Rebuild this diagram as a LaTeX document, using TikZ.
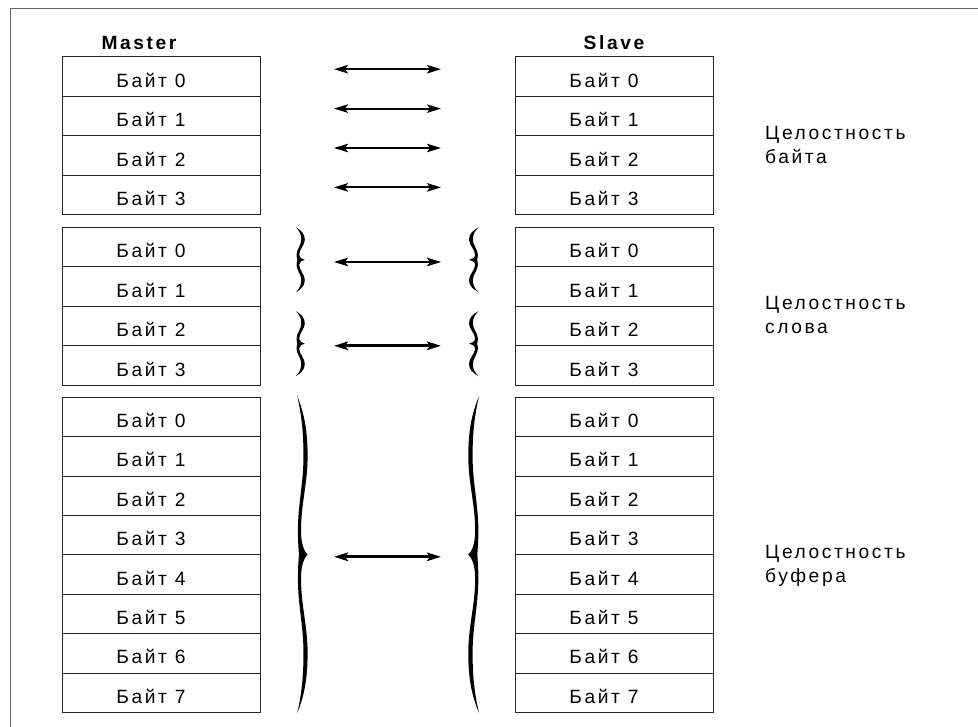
\documentclass[tikz,border=0pt]{standalone}
\usepackage{fontspec}
\setmainfont{Liberation Sans}[LetterSpace=13.5]
\usetikzlibrary{positioning,arrows.meta}

\newcommand{\bytecell}[1]{\hspace*{-20pt}Байт #1}
% filled curly brace, ends at x=0, tip at x=10, y from -1 (top) to 1 (bottom)
\newcommand{\bracefill}{(0,-1) .. controls (6,-0.9) and (10,-0.8) .. (10,-0.62)
    .. controls (10,-0.45) and (3.6,-0.32) .. (3.6,-0.15)
    .. controls (3.6,-0.06) and (7,-0.02) .. (10,0)
    .. controls (7,0.02) and (3.6,0.06) .. (3.6,0.15)
    .. controls (3.6,0.32) and (10,0.45) .. (10,0.62)
    .. controls (10,0.8) and (6,0.9) .. (0,1)
    .. controls (4,0.88) and (6,0.78) .. (6,0.62)
    .. controls (6,0.45) and (0.6,0.32) .. (0.6,0.15)
    .. controls (0.6,0.06) and (1.5,0.03) .. (1.5,0)
    .. controls (1.5,-0.03) and (0.6,-0.06) .. (0.6,-0.15)
    .. controls (0.6,-0.32) and (6,-0.45) .. (6,-0.62)
    .. controls (6,-0.78) and (4,-0.88) .. (0,-1) -- cycle}

\begin{document}
\begin{tikzpicture}[x=1pt, y=-1pt, node distance=0pt,
    font=\fontsize{19.2}{24.4}\selectfont,
    >={Stealth[length=14pt,width=8.5pt,inset=3pt]},
    cell/.style={draw=black!85, line width=1pt, minimum width=198pt, minimum height=39.4pt,
                 inner sep=0pt, outer sep=0pt, text height=21.2pt, text depth=0pt},
    title/.style={font=\fontsize{19.2}{24.4}\selectfont\bfseries, anchor=base},
    note/.style={anchor=base west, align=left, inner sep=0pt},
    xfer/.style={<->, line width=2pt},
    bold xfer/.style={<->, line width=2.7pt}]

    \useasboundingbox (0,0) rectangle (978,727);
    \clip (0,0) rectangle (978,727);
    \draw[black!60, line width=1pt] (10,9) rectangle (990,740);

    % master side
    \node[cell]     (ma0)   at (161,76.7)           {\bytecell{0}};
    \node[cell]     (ma1)   [below=of ma0]          {\bytecell{1}};
    \node[cell]     (ma2)   [below=of ma1]          {\bytecell{2}};
    \node[cell]     (ma3)   [below=of ma2]          {\bytecell{3}};

    \node[cell]     (mb0)   [below=13pt of ma3]     {\bytecell{0}};
    \node[cell]     (mb1)   [below=of mb0]          {\bytecell{1}};
    \node[cell]     (mb2)   [below=of mb1]          {\bytecell{2}};
    \node[cell]     (mb3)   [below=of mb2]          {\bytecell{3}};

    \node[cell]     (mc0)   [below=12pt of mb3]     {\bytecell{0}};
    \node[cell]     (mc1)   [below=of mc0]          {\bytecell{1}};
    \node[cell]     (mc2)   [below=of mc1]          {\bytecell{2}};
    \node[cell]     (mc3)   [below=of mc2]          {\bytecell{3}};
    \node[cell]     (mc4)   [below=of mc3]          {\bytecell{4}};
    \node[cell]     (mc5)   [below=of mc4]          {\bytecell{5}};
    \node[cell]     (mc6)   [below=of mc5]          {\bytecell{6}};
    \node[cell]     (mc7)   [below=of mc6]          {\bytecell{7}};

    % slave side
    \node[cell]     (sa0)   [right=255pt of ma0]    {\bytecell{0}};
    \node[cell]     (sa1)   [right=255pt of ma1]    {\bytecell{1}};
    \node[cell]     (sa2)   [right=255pt of ma2]    {\bytecell{2}};
    \node[cell]     (sa3)   [right=255pt of ma3]    {\bytecell{3}};

    \node[cell]     (sb0)   [right=255pt of mb0]    {\bytecell{0}};
    \node[cell]     (sb1)   [right=255pt of mb1]    {\bytecell{1}};
    \node[cell]     (sb2)   [right=255pt of mb2]    {\bytecell{2}};
    \node[cell]     (sb3)   [right=255pt of mb3]    {\bytecell{3}};

    \node[cell]     (sc0)   [right=255pt of mc0]    {\bytecell{0}};
    \node[cell]     (sc1)   [right=255pt of mc1]    {\bytecell{1}};
    \node[cell]     (sc2)   [right=255pt of mc2]    {\bytecell{2}};
    \node[cell]     (sc3)   [right=255pt of mc3]    {\bytecell{3}};
    \node[cell]     (sc4)   [right=255pt of mc4]    {\bytecell{4}};
    \node[cell]     (sc5)   [right=255pt of mc5]    {\bytecell{5}};
    \node[cell]     (sc6)   [right=255pt of mc6]    {\bytecell{6}};
    \node[cell]     (sc7)   [right=255pt of mc7]    {\bytecell{7}};

    \node[title]    (master) at ([xshift=-22pt,yshift=7.7pt]ma0.north)  {Master};
    \node[title]    (slave)  at ([yshift=7.7pt]sa0.north)               {Slave};

    \node[note]     (intbyte) at ([xshift=52pt,yshift=-27.9pt]sa1.south east) {Целостность\\байта};
    \node[note]     (intword) at ([xshift=52pt,yshift=-27.6pt]sb1.south east) {Целостность\\слова};
    \node[note]     (intbuf)  at ([xshift=52pt,yshift=-27.9pt]sc3.south east) {Целостность\\буфера};

    % byte consistency
    \draw[xfer] ([xshift=74pt,yshift=7.5pt]ma0.east) -- ([xshift=-74pt,yshift=7.5pt]sa0.west);
    \draw[xfer] ([xshift=74pt,yshift=7.5pt]ma1.east) -- ([xshift=-74pt,yshift=7.5pt]sa1.west);
    \draw[xfer] ([xshift=74pt,yshift=7.5pt]ma2.east) -- ([xshift=-74pt,yshift=7.5pt]sa2.west);
    \draw[xfer] ([xshift=74pt,yshift=7.5pt]ma3.east) -- ([xshift=-74pt,yshift=7.5pt]sa3.west);

    % word consistency
    \coordinate (w1l) at ([xshift=74pt,yshift=5pt]mb0.south east);
    \coordinate (w1r) at ([xshift=-74pt,yshift=5pt]sb0.south west);
    \coordinate (w2l) at ([xshift=74pt]mb2.south east);
    \coordinate (w2r) at ([xshift=-74pt]sb2.south west);
    \draw[xfer]      (w1l) -- (w1r);
    \draw[bold xfer] (w2l) -- (w2r);
    \fill[shift={([xshift=-38pt,yshift=2.2pt]w1l)}, xscale=0.88, yscale=32.5]  \bracefill;
    \fill[shift={([xshift=37.5pt,yshift=2.2pt]w1r)}, xscale=-0.95, yscale=32.5] \bracefill;
    \fill[shift={([xshift=-38pt,yshift=2.2pt]w2l)}, xscale=0.88, yscale=32.5]  \bracefill;
    \fill[shift={([xshift=37.5pt,yshift=2.2pt]w2r)}, xscale=-0.95, yscale=32.5] \bracefill;

    % buffer consistency
    \coordinate (bl) at ([xshift=74pt,yshift=-2pt]mc3.south east);
    \coordinate (br) at ([xshift=-74pt,yshift=-2pt]sc3.south west);
    \draw[bold xfer] (bl) -- (br);
    \fill[shift={([xshift=-36.7pt,yshift=2.2pt]bl)}, xscale=1.03, yscale=158.5]  \bracefill;
    \fill[shift={([xshift=38pt,yshift=2.2pt]br)},    xscale=-1.07, yscale=158.5] \bracefill;
\end{tikzpicture}
\end{document}
